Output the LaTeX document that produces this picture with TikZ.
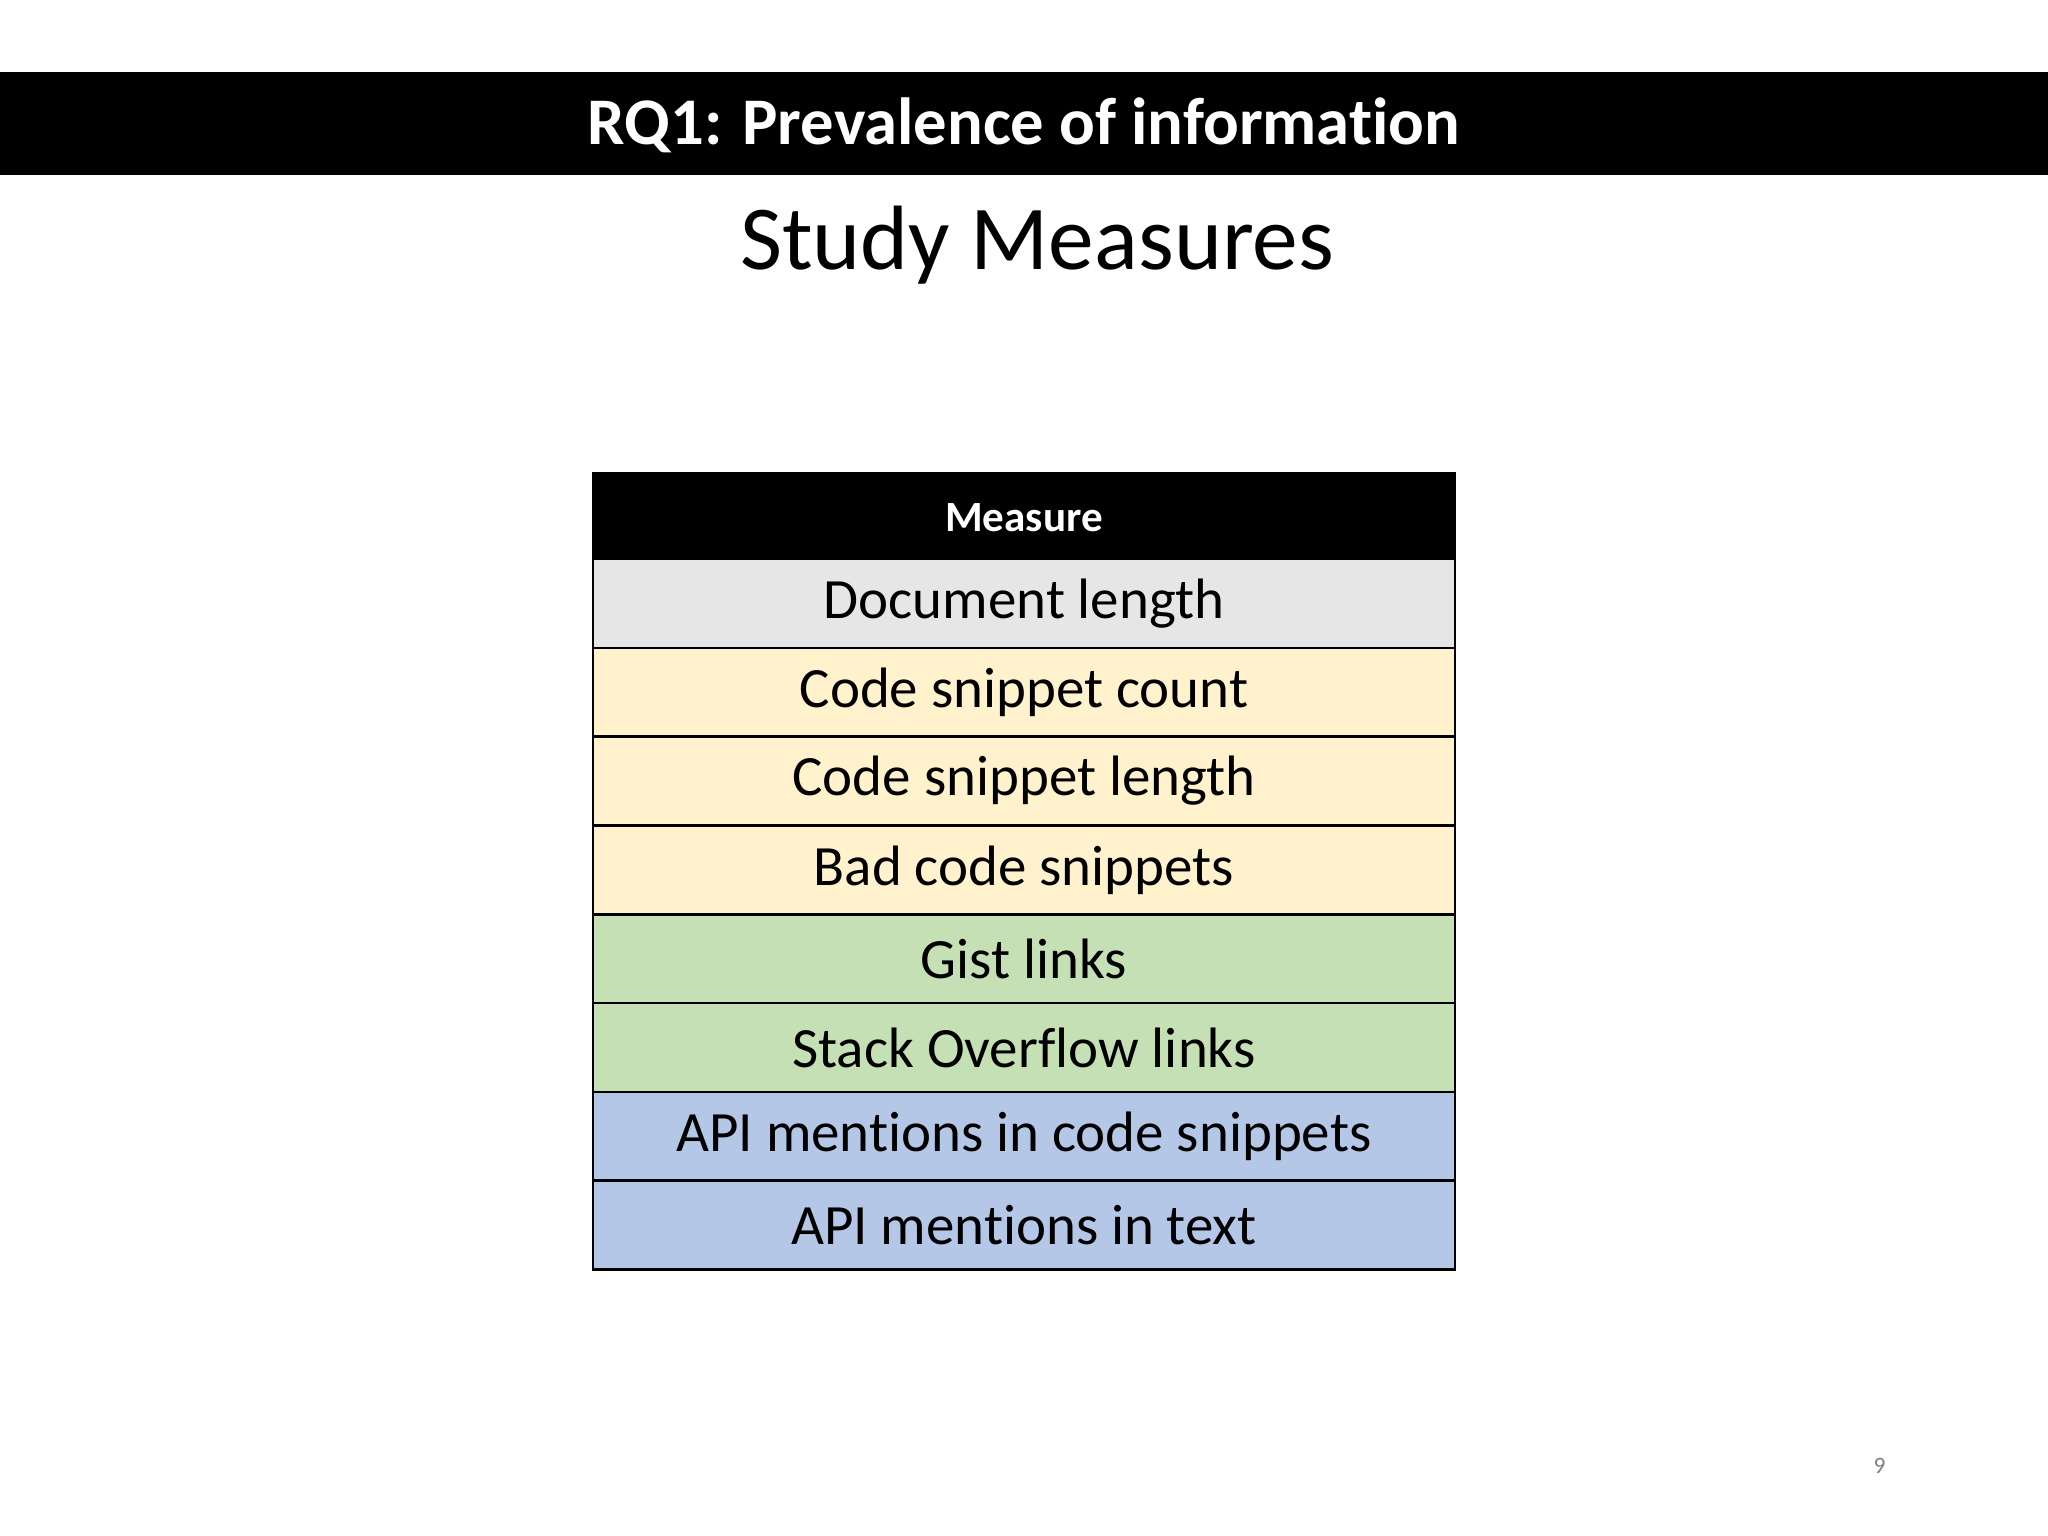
\documentclass[tikz,border=0pt]{standalone}
\usepackage{fontspec}
\setmainfont[Ligatures={NoCommon}]{Carlito}
\definecolor{cgray}{HTML}{E7E6E6}
\definecolor{cyel}{HTML}{FFF2CC}
\definecolor{cgreen}{HTML}{C5E0B4}
\definecolor{cblue}{HTML}{B4C7E7}
\begin{document}
\begin{tikzpicture}[x=0.5pt,y=-0.5pt,
  row/.style={draw=black,line width=1pt,minimum width=330pt,minimum height=34pt,inner sep=0pt,anchor=north,font=\fontsize{21.8}{26}\selectfont},
  hdr/.style={row,fill=black,text=white,font=\bfseries\fontsize{16.5}{20}\selectfont}]
\useasboundingbox (0,0) rectangle (1568,1176);
\fill[white] (0,0) rectangle (1568,1176);
\fill[black] (0,55) rectangle (1568,134);
\node[text=white,font=\bfseries\fontsize{25.5}{30}\selectfont] (title) at (784,96) {RQ1: Prevalence of information};
\node[font=\fontsize{35}{42}\selectfont] (sub) at (794,188) {Study Measures};
\node[hdr,text depth=0pt] (h) at (784,361) {Measure};
\node[row,fill=cgray] (r1) at (784,427) {Document length};
\node[row,fill=cyel] (r2) at (784,495) {Code snippet count};
\node[row,fill=cyel] (r3) at (784,563) {Code snippet length};
\node[row,fill=cyel] (r4) at (784,631) {Bad code snippets};
\node[row,fill=cgreen] (r5) at (784,699) {Gist links};
\node[row,fill=cgreen] (r6) at (784,767) {Stack Overflow links};
\node[row,fill=cblue] (r7) at (784,835) {API mentions in code snippets};
\node[row,fill=cblue] (r8) at (784,903) {API mentions in text};
\node[text=gray,font=\fontsize{9}{10}\selectfont] (pg) at (1439,1122) {9};
\end{tikzpicture}
\end{document}
